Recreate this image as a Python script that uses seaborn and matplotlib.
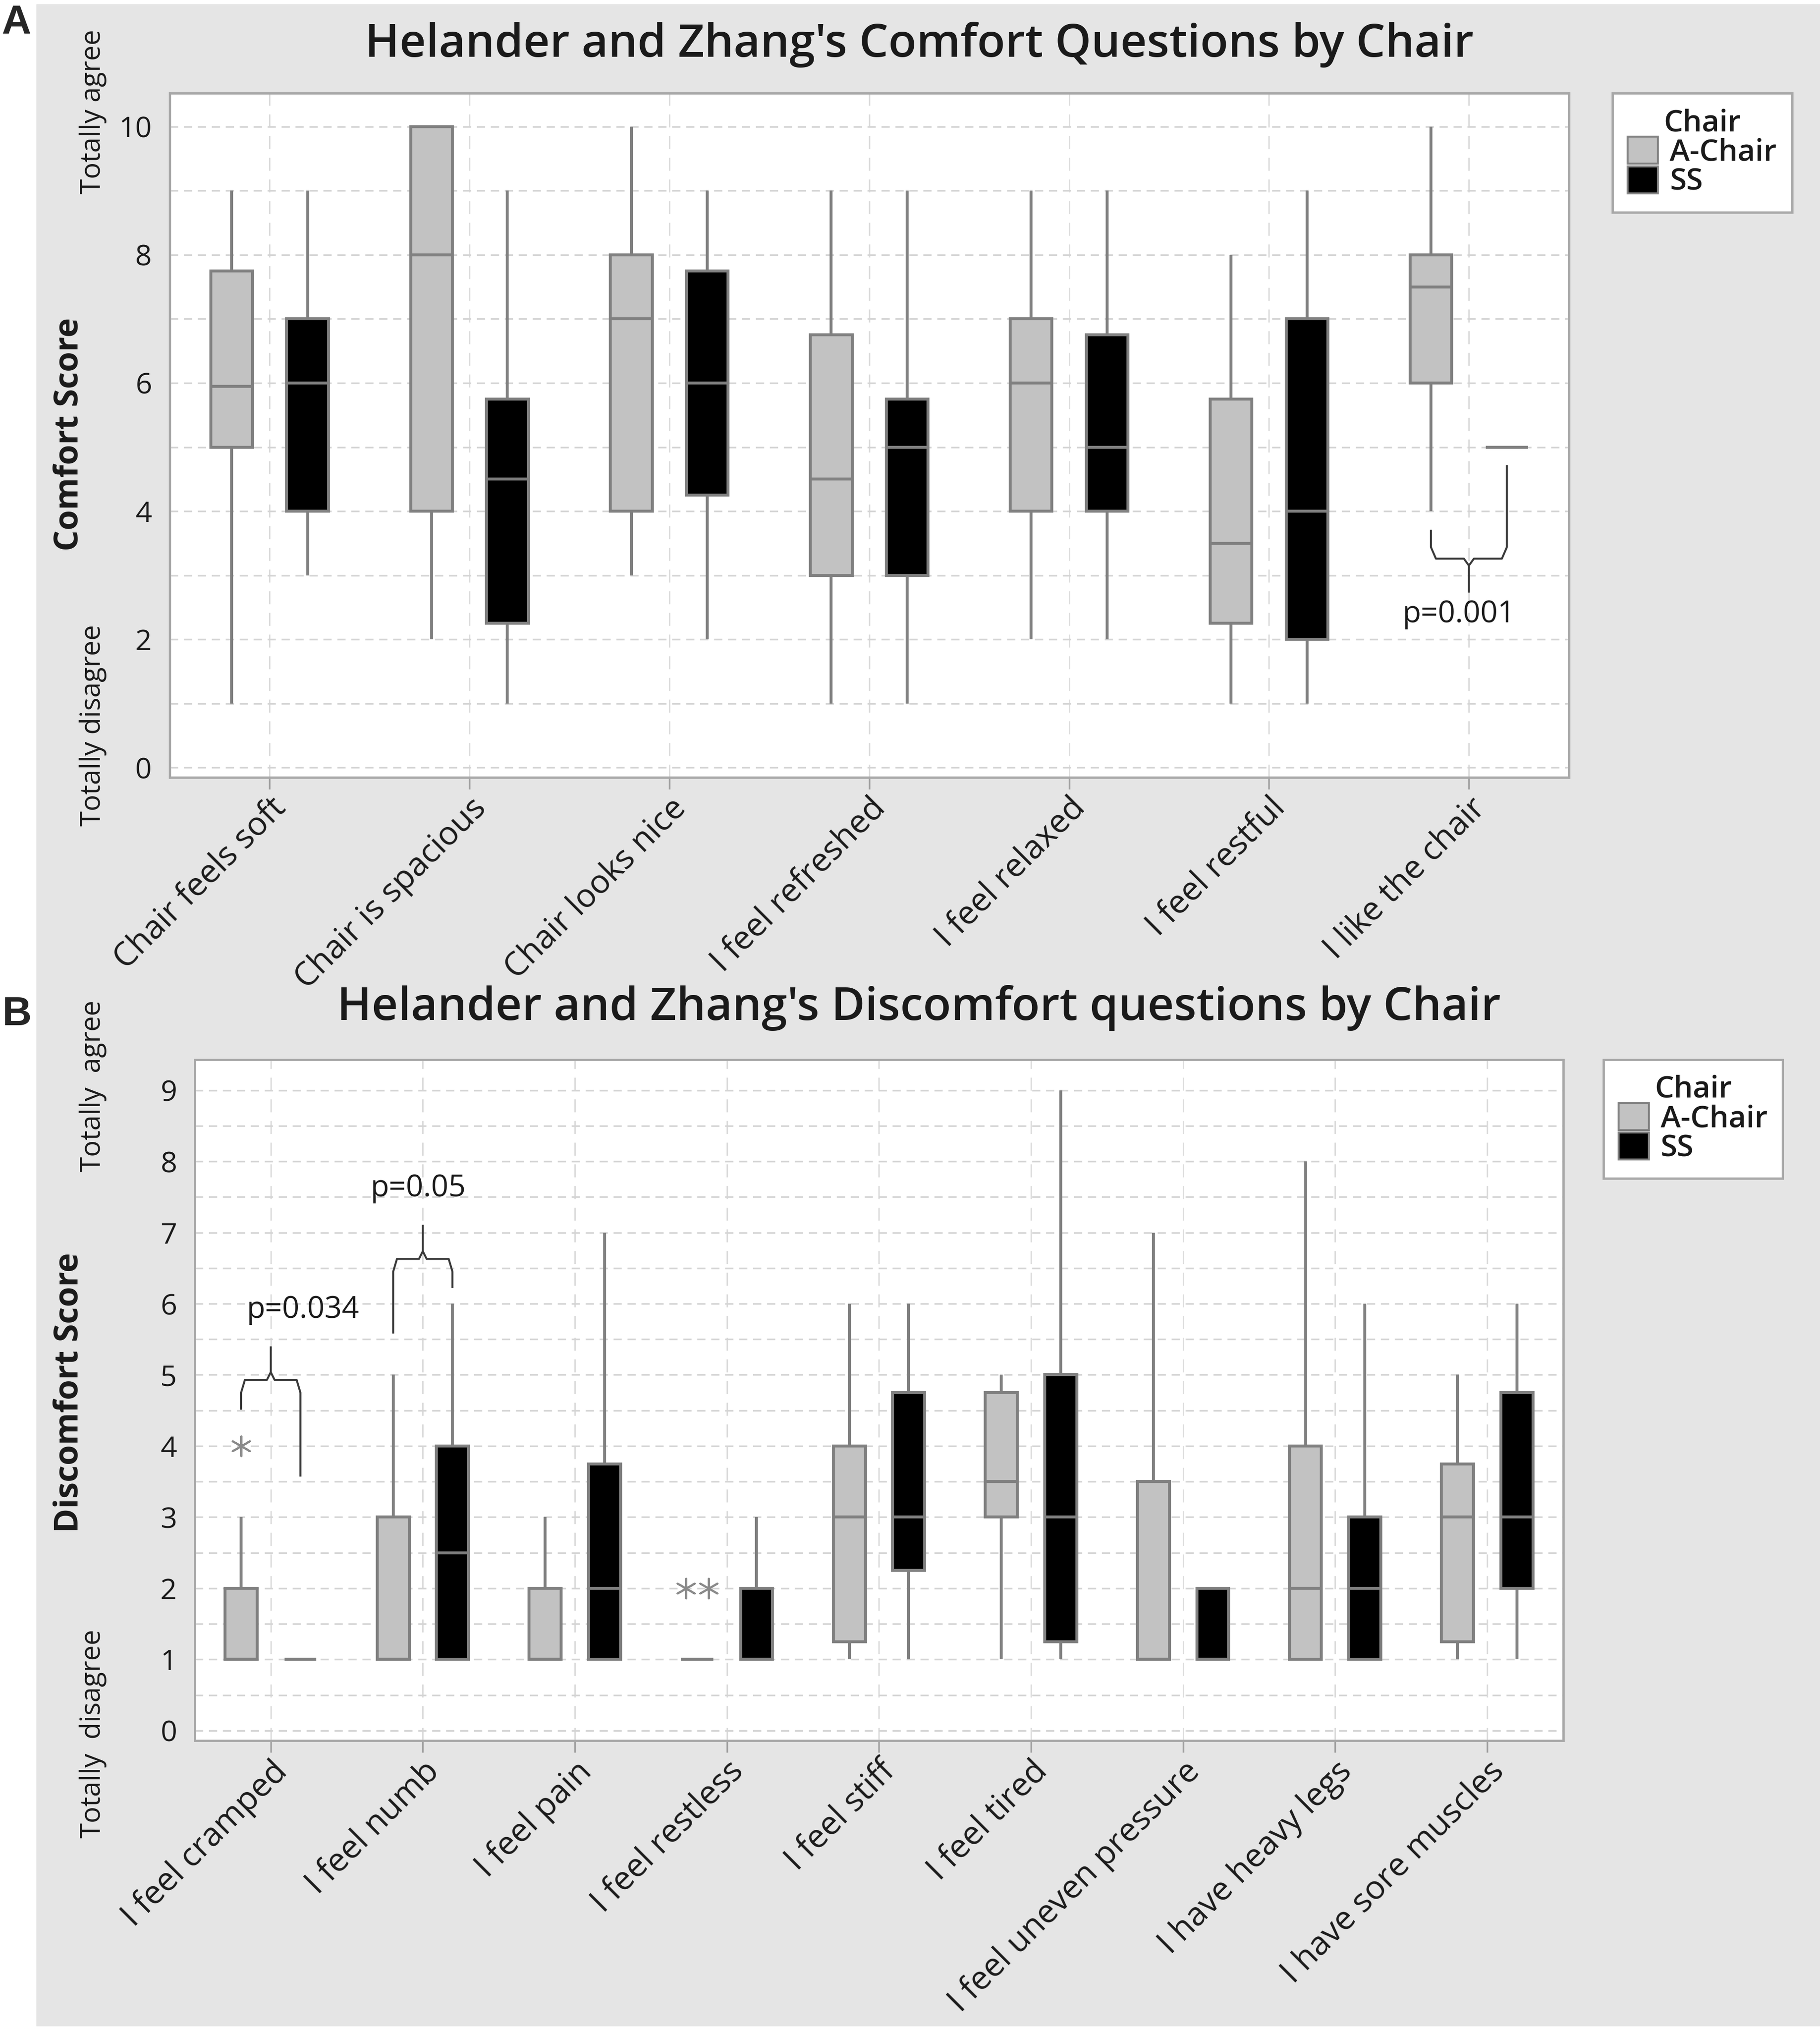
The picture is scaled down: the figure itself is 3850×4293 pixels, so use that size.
import pandas as pd
import seaborn as sns
import matplotlib.pyplot as plt
from matplotlib.patches import Patch, Rectangle
from matplotlib.ticker import MultipleLocator

sns.set_theme(style="white")
plt.rcParams['font.family'] = ['Open Sans', 'DejaVu Sans']

chairs = ['A-Chair', 'SS']
chair_colors = {'A-Chair': '#c2c2c2', 'SS': '#000000'}

# Comfort questions (panel A): whisker low, Q1, median, Q3, whisker high
comfort_questions = ['Chair feels soft', 'Chair is spacious', 'Chair looks nice',
                     'I feel refreshed', 'I feel relaxed', 'I feel restful',
                     'I like the chair']
comfort_a_low = [1, 2, 3, 1, 2, 1, 4]
comfort_a_q1 = [5, 4, 4, 3, 4, 2.25, 6]
comfort_a_med = [5.95, 8, 7, 4.5, 6, 3.5, 7.5]
comfort_a_q3 = [7.75, 10, 8, 6.75, 7, 5.75, 8]
comfort_a_high = [9, 10, 10, 9, 9, 8, 10]
comfort_ss_low = [3, 1, 2, 1, 2, 1, 5]
comfort_ss_q1 = [4, 2.25, 4.25, 3, 4, 2, 5]
comfort_ss_med = [6, 4.5, 6, 5, 5, 4, 5]
comfort_ss_q3 = [7, 5.75, 7.75, 5.75, 6.75, 7, 5]
comfort_ss_high = [9, 9, 9, 9, 9, 9, 5]

# Discomfort questions (panel B)
discomfort_questions = ['I feel cramped', 'I feel numb', 'I feel pain',
                        'I feel restless', 'I feel stiff', 'I feel tired',
                        'I feel uneven pressure', 'I have heavy legs',
                        'I have sore muscles']
disc_a_low = [1, 1, 1, 1, 1, 1, 1, 1, 1]
disc_a_q1 = [1, 1, 1, 1, 1.25, 3, 1, 1, 1.25]
disc_a_med = [1, 1, 1, 1, 3, 3.5, 1, 2, 3]
disc_a_q3 = [2, 3, 2, 1, 4, 4.75, 3.5, 4, 3.75]
disc_a_high = [3, 5, 3, 1, 6, 5, 7, 8, 5]
disc_ss_low = [1, 1, 1, 1, 1, 1, 1, 1, 1]
disc_ss_q1 = [1, 1, 1, 1, 2.25, 1.25, 1, 1, 2]
disc_ss_med = [1, 2.5, 2, 1, 3, 3, 1, 2, 3]
disc_ss_q3 = [1, 4, 3.75, 2, 4.75, 5, 2, 3, 4.75]
disc_ss_high = [1, 6, 7, 3, 6, 9, 2, 6, 6]

# A-Chair outliers in panel B
disc_outlier_question = ['I feel cramped', 'I feel restless', 'I feel restless']
disc_outlier_value = [4, 2, 2]

# significance braces: question, p label, left leg end, right leg end, bar, tip
comfort_sig = [('I like the chair', 'p=0.001', 3.71, 4.72, 3.26, 2.73)]
disc_sig = [('I feel cramped', 'p=0.034', 4.51, 3.57, 4.93, 5.40),
            ('I feel numb', 'p=0.05', 5.58, 6.22, 6.63, 7.11)]

EDGE = '#808080'
TEXT = '#1a1a1a'


def long_table(questions, a_stats, ss_stats):
    """Turns the five-number summaries into a long table for seaborn."""
    rows = []
    for chair, stats in zip(chairs, [a_stats, ss_stats]):
        for i, q in enumerate(questions):
            for s in stats:
                rows.append({'question': q, 'chair': chair, 'score': s[i]})
    return pd.DataFrame(rows)


def brace(ax, xl, xr, xt, yl, yr, ybar, ytip):
    d = 1 if ytip > ybar else -1
    h = 0.18
    c = 0.025
    kw = dict(color='#3a3a3a', lw=3, solid_capstyle='butt', zorder=5)
    ax.plot([xl, xl, xl + c, xt - c, xt, xt],
            [yl, ybar - d * h, ybar, ybar, ybar + d * h * 0.6, ytip], **kw)
    ax.plot([xt, xt + c, xr - c, xr, xr],
            [ybar + d * h * 0.6, ybar, ybar, ybar - d * h, yr], **kw)


def draw_panel(ax, questions, data, width, gap, major, minor, ylim):
    sns.boxplot(data=data, x='question', y='score', hue='chair',
                order=questions, hue_order=chairs, palette=chair_colors,
                width=width, gap=gap, linecolor=EDGE, linewidth=4.5,
                whis=1.5, showcaps=False, fliersize=0, legend=False, ax=ax)
    ax.set_ylim(*ylim)
    ax.set_xlim(-0.5, len(questions) - 0.5)
    ax.yaxis.set_major_locator(MultipleLocator(major))
    ax.yaxis.set_minor_locator(MultipleLocator(minor))
    ax.set_axisbelow(True)
    ax.grid(axis='y', which='both', color='#d4d4d4', lw=2.5,
            linestyle=(0, (5, 3.5)))
    for i in range(len(questions)):
        ax.axvline(i, color='#dcdcdc', lw=2.2, linestyle=(0, (9, 6)),
                   zorder=0)
    ax.set_xlabel('')
    ax.set_ylabel('')
    ax.set_facecolor('white')
    for sp in ax.spines.values():
        sp.set_visible(True)
        sp.set_color('#a8a8a8')
        sp.set_linewidth(3.5)
    ax.tick_params(axis='y', which='major', length=14, width=2.5,
                   color='#a0a0a0', labelsize=44, labelcolor=TEXT, pad=13)
    ax.tick_params(axis='y', which='minor', length=0)
    ax.tick_params(axis='x', which='major', length=18, width=2.5,
                   color='#a0a0a0', labelsize=50, labelcolor=TEXT, pad=4,
                   bottom=True)
    plt.setp(ax.get_xticklabels(), rotation=45, ha='right',
             rotation_mode='anchor')


fig = plt.figure(figsize=(38.5, 42.93), dpi=100)
fig.patches.append(Rectangle((0.02, 0.002), 0.98, 0.996,
                             transform=fig.transFigure, color='#e5e5e5',
                             zorder=-10))

comfort = long_table(comfort_questions,
                     [comfort_a_low, comfort_a_q1, comfort_a_med,
                      comfort_a_q3, comfort_a_high],
                     [comfort_ss_low, comfort_ss_q1, comfort_ss_med,
                      comfort_ss_q3, comfort_ss_high])
discomfort = long_table(discomfort_questions,
                        [disc_a_low, disc_a_q1, disc_a_med, disc_a_q3,
                         disc_a_high],
                        [disc_ss_low, disc_ss_q1, disc_ss_med, disc_ss_q3,
                         disc_ss_high])

# Panel A
width_a = 0.76
ax1 = fig.add_axes([0.0932, 0.6171, 0.7688, 0.3370])
draw_panel(ax1, comfort_questions, comfort, width_a, 0.45, 2, 1,
           (-0.15, 10.52))
for q, label, yl, yr, ybar, ytip in comfort_sig:
    i = comfort_questions.index(q)
    off = width_a / 4
    brace(ax1, i - off, i + off, i, yl, yr, ybar, ytip)
    ax1.text(i - 0.05, ytip - 0.1, label, ha='center', va='top',
             fontsize=46, color=TEXT)

# Panel B
width_b = 0.78
ax2 = fig.add_axes([0.1070, 0.1426, 0.7519, 0.3354])
draw_panel(ax2, discomfort_questions, discomfort, width_b, 0.46, 1, 0.5,
           (-0.14, 9.43))
off_b = width_b / 4
seen = {}
for q, v in zip(disc_outlier_question, disc_outlier_value):
    seen[(q, v)] = seen.get((q, v), 0) + 1
counts = {}
for q, v in zip(disc_outlier_question, disc_outlier_value):
    n = seen[(q, v)]
    k = counts.get((q, v), 0)
    counts[(q, v)] = k + 1
    shift = 0 if n == 1 else (k - (n - 1) / 2) * 0.15
    x = discomfort_questions.index(q) - off_b + shift
    ax2.scatter([x], [v], marker=(6, 2, 0), s=900, color='#8a8a8a',
                linewidths=3, zorder=6)
for (q, label, yl, yr, ybar, ytip), dx in zip(disc_sig, [0.21, -0.03]):
    i = discomfort_questions.index(q)
    brace(ax2, i - off_b, i + off_b, i, yl, yr, ybar, ytip)
    ax2.text(i + dx, ytip + 0.3, label, ha='center', va='bottom',
             fontsize=46, color=TEXT)

# titles, side labels, legends
fig.text(0.505, 0.978, "Helander and Zhang's Comfort Questions by Chair",
         ha='center', va='center', fontsize=70, fontweight='semibold',
         color=TEXT)
fig.text(0.505, 0.5035, "Helander and Zhang's Discomfort questions by Chair",
         ha='center', va='center', fontsize=70, fontweight='semibold',
         color=TEXT)
for y, s in [(0.945, 'Totally agree'), (0.6426, 'Totally disagree'),
             (0.465, 'Totally  agree'), (0.146, 'Totally  disagree')]:
    fig.text(0.051, y, s, rotation=90, ha='center', va='center',
             fontsize=42, color=TEXT)
fig.text(0.038, 0.786, 'Comfort Score', rotation=90, ha='center',
         va='center', fontsize=50, fontweight='bold', color=TEXT)
fig.text(0.038, 0.314, 'Discomfort Score', rotation=90, ha='center',
         va='center', fontsize=50, fontweight='bold', color=TEXT)
fig.text(0.001, 0.9885, 'A', ha='left', va='center', fontsize=62,
         fontweight='bold', family='Liberation Sans')
fig.text(0.001, 0.5, 'B', ha='left', va='center', fontsize=62,
         fontweight='bold', family='Liberation Sans')

handles = [Patch(facecolor=chair_colors[c], edgecolor=EDGE, lw=3)
           for c in chairs]
for ax, anchor in [(ax1, (0.886, 0.954)), (ax2, (0.881, 0.478))]:
    leg = ax.legend(handles, chairs, title='Chair', loc='upper left',
                    bbox_to_anchor=anchor, bbox_transform=fig.transFigure,
                    prop={'size': 46, 'weight': 'semibold'},
                    title_fontproperties={'size': 46, 'weight': 'semibold'},
                    frameon=True, fancybox=False, edgecolor='#a8a8a8',
                    facecolor='white', framealpha=1, handlelength=1.0,
                    handleheight=1.0, handletextpad=0.4,
                    labelspacing=-0.05, borderpad=0.5, borderaxespad=0)
    leg.get_frame().set_linewidth(3.5)
    for t in leg.get_texts():
        t.set_color(TEXT)
    leg.get_title().set_color(TEXT)

fig.savefig('out.png', dpi=100)
